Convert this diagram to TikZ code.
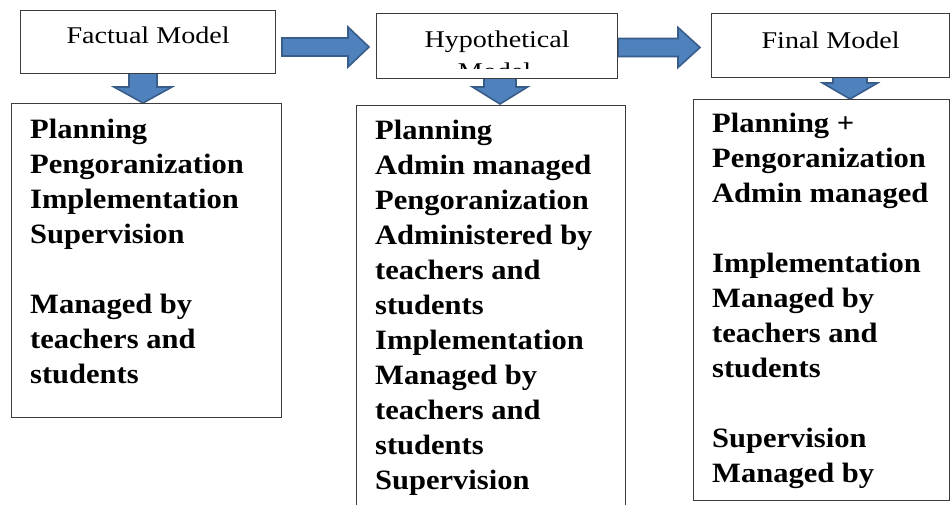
\documentclass[tikz,border=0pt]{standalone}
\usepackage{fontspec}
\setmainfont{Liberation Serif}
\newfontfamily\hdrfont[FakeStretch=1.17]{Liberation Serif}
\newfontfamily\bodyfont[FakeStretch=1.09]{Liberation Serif}
\definecolor{arrfill}{RGB}{79,129,189}
\definecolor{arrline}{RGB}{56,93,138}
\definecolor{boxline}{RGB}{60,60,60}
% right block arrow: x0, x head base, x tip, y centre, shaft half, head half
\newcommand\BlkRight[6]{\filldraw[blockarrow] (#1,#4-#5) -- (#2,#4-#5) -- (#2,#4-#6) -- (#3,#4) -- (#2,#4+#6) -- (#2,#4+#5) -- (#1,#4+#5) -- cycle;}
% down block arrow: x centre, y0, y head base, y tip, shaft half, head half
\newcommand\BlkDown[6]{\filldraw[blockarrow] (#1-#5,#2) -- (#1-#5,#3) -- (#1-#6,#3) -- (#1,#4) -- (#1+#6,#3) -- (#1+#5,#3) -- (#1+#5,#2) -- cycle;}
\begin{document}
\begin{tikzpicture}[x=1pt,y=-1pt,
  blockarrow/.style={fill=arrfill,draw=arrline,line width=1.6pt,line join=miter},
  hdrbox/.style={draw=boxline,fill=white,line width=1.2pt,inner xsep=0pt,inner ysep=0pt,anchor=north west,align=center,font=\hdrfont\fontsize{24}{28}\selectfont},
  bigbox/.style={draw=boxline,fill=white,line width=1.2pt,inner sep=0pt,anchor=north west},
  bodytxt/.style={anchor=base west,align=left,inner sep=0pt,font=\bodyfont\bfseries\fontsize{28}{35}\selectfont}]
\useasboundingbox (0,0) rectangle (952,505);
\clip (0,0) rectangle (952,505);
\fill[white] (0,0) rectangle (952,505);
% arrows
\BlkRight{282}{348}{369}{47}{9}{20}
\BlkRight{618}{678}{700}{47.5}{9}{20}
\BlkDown{143}{73}{87}{103}{14}{29}
\BlkDown{500}{78}{87}{104}{16}{27.5}
\BlkDown{850}{77}{83}{99}{17}{27.5}
% header boxes
\node[hdrbox,minimum width=255pt,text height=33pt,text depth=30pt] (fact) at (20,10) {Factual Model};
\node[hdrbox,minimum width=241pt,text height=34pt,text depth=31pt] (hyp) at (376,13) {Hypothetical};
\node[hdrbox,minimum width=238pt,text height=35pt,text depth=29pt] (final) at (711,13) {Final Model};
\begin{scope}
  \clip (377,14) rectangle (616,68.5);
  \node[anchor=base,inner sep=0pt,font=\hdrfont\fontsize{24}{28}\selectfont] (hypmodel) at (494.5,80) {Model};
\end{scope}
% body boxes
\node[bigbox,minimum width=270pt,minimum height=314pt] (factbody) at (11,103) {};
\node[bigbox,minimum width=269pt,minimum height=420pt] (hypbody) at (356,105) {};
\node[bigbox,minimum width=256pt,minimum height=401pt] (finalbody) at (693,99) {};
% body texts (anchored at the baseline of their last line)
\node[bodytxt] (facttxt) at (30,383) {Planning\\Pengoranization\\Implementation\\Supervision\\[35pt]Managed by\\teachers and\\students};
\node[bodytxt] (hyptxt) at (375,489) {Planning\\Admin managed\\Pengoranization\\Administered by\\teachers and\\students\\Implementation\\Managed by\\teachers and\\students\\Supervision};
\begin{scope}
  \clip (694,100) rectangle (948,490);
  \node[bodytxt] (finaltxt) at (712,482) {Planning +\\Pengoranization\\Admin managed\\[35pt]Implementation\\Managed by\\teachers and\\students\\[35pt]Supervision\\Managed by};
\end{scope}
\end{tikzpicture}
\end{document}
